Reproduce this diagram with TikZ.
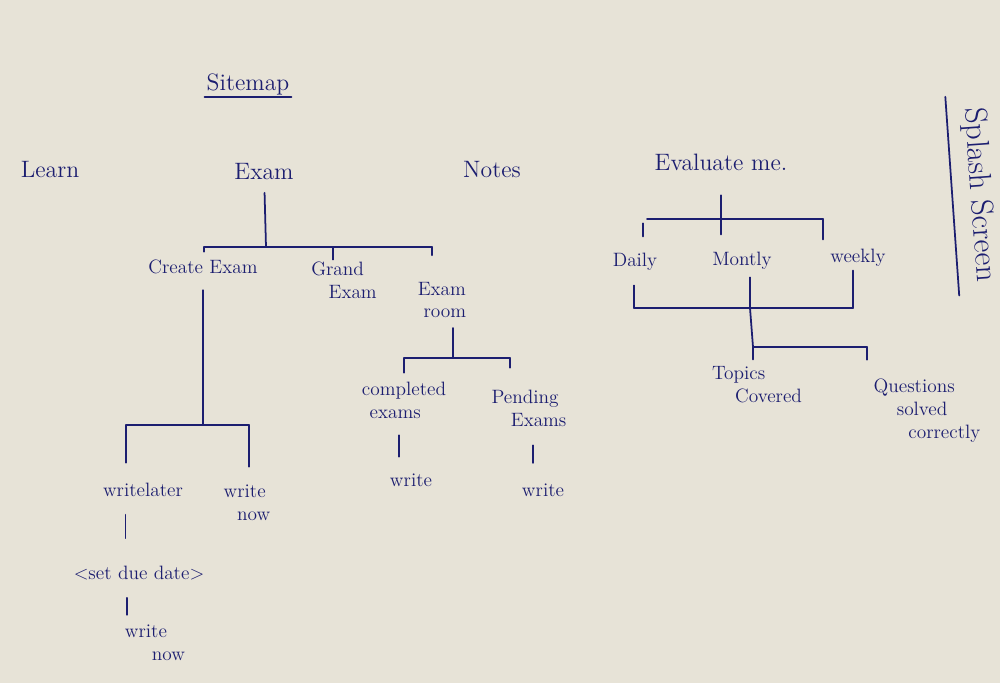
\documentclass[tikz,border=0pt]{standalone}
\usepackage{xcolor}
\usepackage{tikz}
\definecolor{ink}{RGB}{28,30,112}
\definecolor{paper}{RGB}{231,227,215}
\tikzset{
  pen/.style={ink, line width=1pt, line cap=round},
  lbl/.style={text=ink, font=\fontsize{11}{13}\selectfont, align=left, inner sep=1pt},
  head/.style={lbl, font=\fontsize{13.5}{16}\selectfont},
}

\begin{document}
\begin{tikzpicture}[x=0.02cm,y=-0.02cm]
\fill[paper] (0,0) rectangle (1000,683);
\useasboundingbox (0,0) rectangle (1000,683);

% title and top level pages
\node[head] (title) at (248,84) {Sitemap};
\draw[pen] (title.south west) -- (title.south east);
\node[head] (learn) at (50,170) {Learn};
\node[head] (exam) at (264,172) {Exam};
\node[head] (notes) at (492,170) {Notes};
\node[head] (evaluate) at (721,162) {Evaluate me.};
\node[head, font=\fontsize{18}{20}\selectfont, rotate=-86] (splash) at (979,195) {Splash Screen};
\draw[pen, shorten <=-6pt, shorten >=-6pt] ([xshift=-6pt]splash.south west) -- ([xshift=-6pt]splash.south east);

% Exam branch
\node[lbl] (createexam) at (203,267) {Create Exam};
\node[lbl] (grand) at (344,280) {Grand\\\hspace{0.9em}Exam};
\node[lbl] (examroom) at (442,300) {Exam\\\hspace{0.3em}room};
\coordinate (examjoin) at (266,247);
\coordinate (examL) at (204,247);
\coordinate (examR) at (432,247);
\coordinate (grandtick) at (333,247);
\draw[pen, shorten <=6pt] (exam) -- (examjoin);
\draw[pen] (examL) -- (examR);
\draw[pen, shorten >=3.5pt] (examL) -- (examL |- createexam.north);
\draw[pen] (grandtick) -- (grandtick |- grand.north);
\draw[pen, shorten >=14pt] (examR) -- (examR |- examroom.north);

% Create Exam
\node[lbl] (writelater) at (143,490) {writelater};
\node[lbl] (writenow) at (247,503) {write\\\hspace{0.7em}now};
\node[lbl] (setdue) at (139,573) {<set due date>};
\node[lbl] (writenowb) at (155,643) {write\\\hspace{1.4em}now};
\coordinate (createjoin) at (203,425);
\coordinate (createL) at (126,425);
\coordinate (createR) at (249,425);
\draw[pen, shorten <=8pt] (createexam) -- (createjoin);
\draw[pen] (createL) -- (createR);
\draw[pen, shorten >=10.5pt] (createL) -- (createL |- writelater.north);
\draw[pen, shorten >=9.3pt] (createR) -- (createR |- writenow.north);
\draw[pen, shorten <=9pt, shorten >=14.7pt] ([xshift=-10pt]writelater.south) -- ([xshift=-10pt]writelater.south |- setdue.north);
\draw[pen, shorten <=9pt, shorten >=4.7pt] ([xshift=-6.8pt]setdue.south) -- ([xshift=-6.8pt]setdue.south |- writenowb.north);

% Exam room
\node[lbl] (completed) at (404,400) {completed\\\hspace{0.4em}exams};
\node[lbl] (pending) at (529,408) {Pending\\\hspace{1em}Exams};
\node[lbl] (writea) at (411,480) {write};
\node[lbl] (writeb) at (543,490) {write};
\coordinate (roomjoin) at (453,358);
\coordinate (roomL) at (404,358);
\coordinate (roomR) at (510,358);
\draw[pen, shorten <=4.5pt] (examroom.south -| roomjoin) -- (roomjoin);
\draw[pen] (roomL) -- (roomR);
\draw[pen, shorten >=4pt] (roomL) -- (roomL |- completed.north);
\draw[pen, shorten >=11.4pt] (roomR) -- (roomR |- pending.north);
\draw[pen, shorten <=8.5pt, shorten >=8.4pt] ([xshift=-2.8pt]completed.south) -- ([xshift=-2.8pt]completed.south |- writea.north);
\draw[pen, shorten <=9.7pt, shorten >=10.6pt] ([xshift=2.3pt]pending.south) -- ([xshift=2.3pt]pending.south |- writeb.north);

% Evaluate me
\node[lbl] (daily) at (635,262) {Daily};
\node[lbl] (montly) at (742,261) {Montly};
\node[lbl] (weekly) at (858,258) {weekly};
\coordinate (evaljoin) at (721,219);
\coordinate (evalL) at (647,219);
\coordinate (evalR) at (823,219);
\coordinate (dailytick) at (643,219);
\draw[pen, shorten <=13pt] (evaluate) -- (evaljoin);
\draw[pen] (evalL) -- (evalR);
\draw[pen, shorten <=2.5pt, shorten >=8.4pt] (dailytick) -- (dailytick |- daily.north);
\draw[pen, shorten >=9pt] (evaljoin) -- (evaljoin |- montly.north);
\draw[pen, shorten >=4.4pt] (evalR) -- (evalR |- weekly.north);

\coordinate (lowjoin) at (750,308);
\coordinate (lowL) at (634,308);
\coordinate (lowR) at (853,308);
\draw[pen] (lowL) -- (lowR);
\draw[pen, shorten <=7.2pt] (lowL |- daily.south) -- (lowL);
\draw[pen, shorten <=3.2pt] (lowjoin |- montly.south) -- (lowjoin);
\draw[pen, shorten <=1pt] (lowR |- weekly.south) -- (lowR);

\node[lbl] (topics) at (757,385) {Topics\\\hspace{1.2em}Covered};
\node[lbl] (questions) at (927,411) {Questions\\\hspace{1.2em}solved\\\hspace{1.8em}correctly};
\coordinate (topicsjoin) at (753,347);
\coordinate (questR) at (867,347);
\draw[pen] (lowjoin) -- (topicsjoin);
\draw[pen] (topicsjoin) -- (questR);
\draw[pen, shorten >=3pt] (topicsjoin) -- (topicsjoin |- topics.north);
\draw[pen, shorten >=10pt] (questR) -- (questR |- questions.north);
\end{tikzpicture}
\end{document}
